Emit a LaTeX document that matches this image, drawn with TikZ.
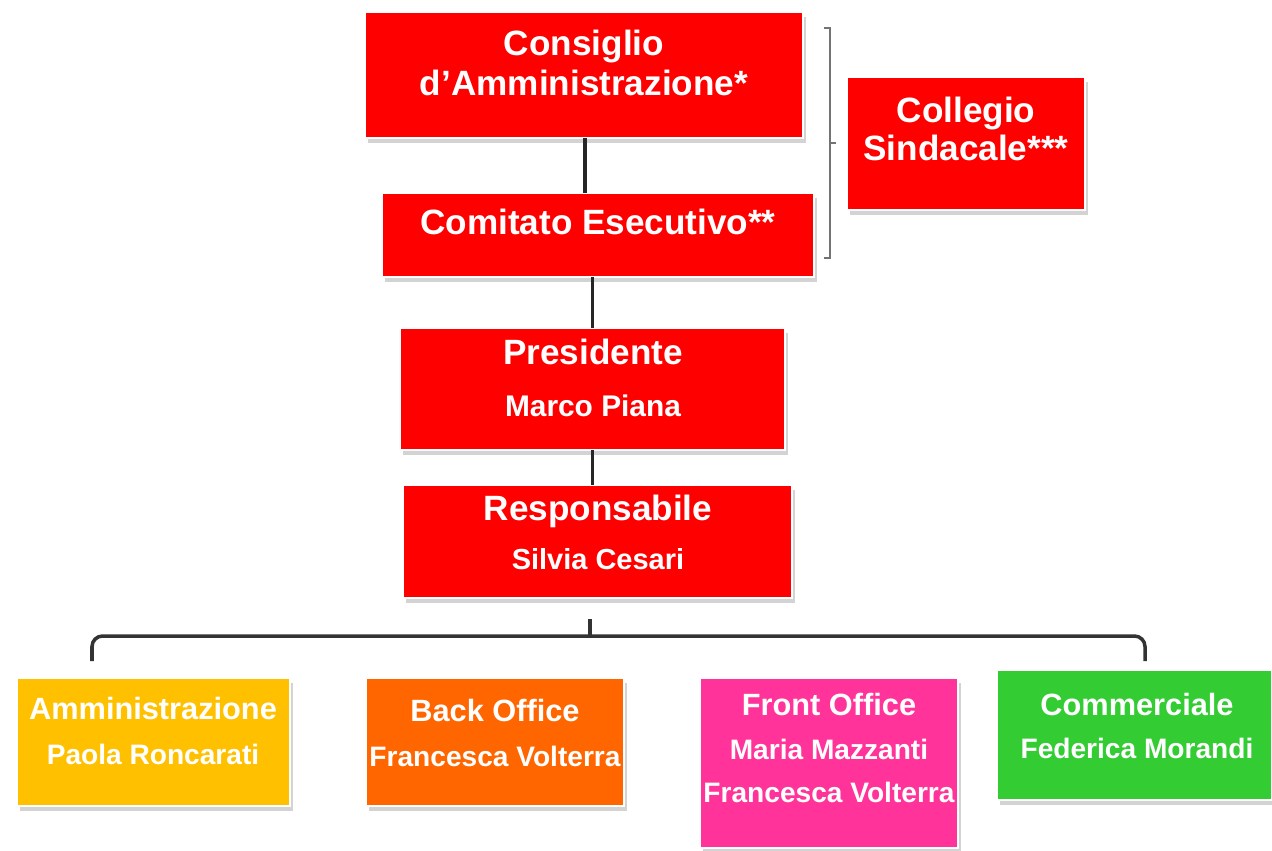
\documentclass[tikz,border=0pt]{standalone}
\usepackage{fontspec}
\setmainfont{Liberation Sans}
\usetikzlibrary{shadows}
\definecolor{orgred}{RGB}{255,0,0}
\definecolor{orgyellow}{RGB}{255,192,0}
\definecolor{orgorange}{RGB}{255,102,0}
\definecolor{orgpink}{RGB}{255,51,153}
\definecolor{orggreen}{RGB}{51,204,51}
\begin{document}
\begin{tikzpicture}[
   x=0.02cm,y=-0.02cm,
   unit/.style={draw=white,line width=1.3pt,inner sep=0pt,outer sep=0pt,
      drop shadow={shadow xshift=0.6mm,shadow yshift=-1mm,opacity=.35}},
   head/.style={text=white,align=center,inner sep=0pt,font=\bfseries\fontsize{20}{23}\selectfont},
   sub/.style={text=white,align=center,inner sep=0pt,font=\bfseries\fontsize{17.5}{26}\selectfont},
   link/.style={line width=2.2pt,black!85},
   brace/.style={line width=2pt,black!80,rounded corners=6pt},
   bracket/.style={line width=0.9pt,black!55}]
\useasboundingbox (0,0) rectangle (1272,850);
\node[unit,fill=orgred,minimum width=8.76cm,minimum height=2.52cm] (cda) at (584,75) {};
\node[head] (cdaT) at (584,63) {Consiglio\\d’Amministrazione*};
\node[unit,fill=orgred,minimum width=8.64cm,minimum height=1.68cm] (ce) at (598,235) {};
\node[head] (ceT) at (598,222) {Comitato Esecutivo**};
\node[unit,fill=orgred,minimum width=4.76cm,minimum height=2.66cm] (cs) at (966,143.5) {};
\node[head,font=\bfseries\fontsize{20}{22}\selectfont] (csT) at (966,129) {Collegio\\Sindacale***};
\node[unit,fill=orgred,minimum width=7.70cm,minimum height=2.44cm] (pres) at (592.5,389) {};
\node[head,font=\bfseries\fontsize{20}{30}\selectfont] (presT) at (593,378) {Presidente\\{\fontsize{17}{30}\selectfont Marco Piana}};
\node[unit,fill=orgred,minimum width=7.78cm,minimum height=2.26cm] (resp) at (597.5,541.5) {};
\node[head,font=\bfseries\fontsize{20}{28}\selectfont] (respT) at (598,532) {Responsabile\\{\fontsize{16.5}{28}\selectfont Silvia Cesari}};
\node[unit,fill=orgyellow,minimum width=5.46cm,minimum height=2.56cm] (amm) at (153.5,742) {};
\node[sub] (ammT) at (153,731) {Amministrazione\\{\fontsize{16}{26}\selectfont Paola Roncarati}};
\node[unit,fill=orgorange,minimum width=5.16cm,minimum height=2.56cm] (bo) at (495,742) {};
\node[sub] (boT) at (495,733) {Back Office\\{\fontsize{16}{26}\selectfont Francesca Volterra}};
\node[unit,fill=orgpink,minimum width=5.16cm,minimum height=3.40cm] (fo) at (829,763) {};
\node[sub,font=\bfseries\fontsize{17.5}{25}\selectfont] (foT) at (829,748) {Front Office\\{\fontsize{16}{25}\selectfont Maria Mazzanti}\\{\fontsize{16}{25}\selectfont Francesca Volterra}};
\node[unit,fill=orggreen,minimum width=5.50cm,minimum height=2.60cm] (comm) at (1134.5,735) {};
\node[sub,font=\bfseries\fontsize{17.5}{25}\selectfont] (commT) at (1137,726) {Commerciale\\{\fontsize{16}{25}\selectfont Federica Morandi}};
\draw[link] (cda.south -| 585,0) -- (ce.north -| 585,0);
\draw[link] (ce.south -| pres.north) -- (pres.north);
\draw[link] (pres.south) -- (pres.south |- resp.north);
\coordinate (brtop) at (830,28);
\coordinate (brbot) at (830,258);
\coordinate (brmid) at (830,143);
\draw[bracket] ([xshift=-0.12cm]brtop) -- (brtop) -- (brbot) -- ([xshift=-0.12cm]brbot);
\draw[bracket] (brmid) -- ([xshift=0.12cm]brmid);
\coordinate (fork) at (590,613);
\coordinate (left) at (92,661);
\coordinate (right) at (1145,661);
\draw[brace] (left) -- (92,636) -- (580,636) to[out=0,in=270] (fork) to[out=270,in=180] (600,636) -- (1145,636) -- (right);
\end{tikzpicture}
\end{document}
